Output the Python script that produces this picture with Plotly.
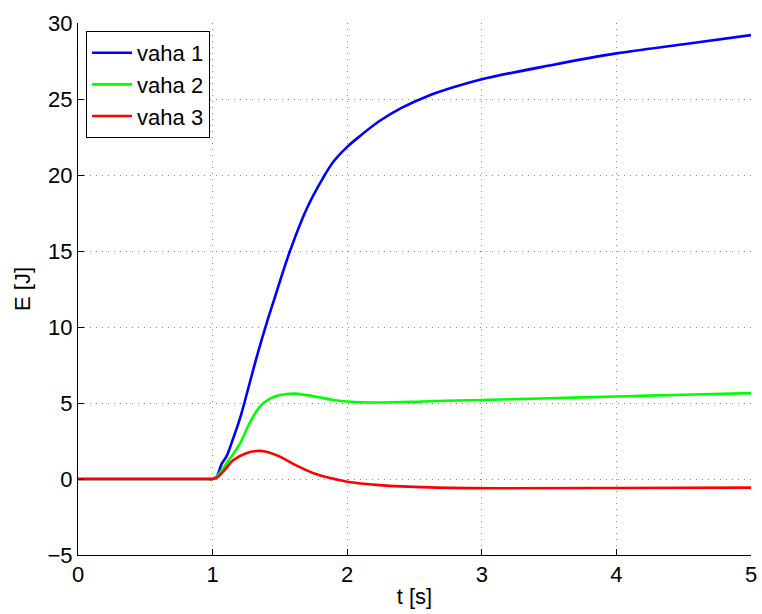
import plotly.graph_objects as go

t1 = [0, 0.5, 0.9, 0.97, 1.0, 1.03, 1.067, 1.104, 1.154, 1.204, 1.278, 1.33, 1.41, 1.45, 1.575, 1.70, 1.82, 1.90, 2.0, 2.1, 2.24, 2.4, 2.6, 2.8, 3.0, 3.5, 4.0, 4.5, 5.0]
vaha1 = [0, 0, 0, 0, 0, 0.15, 1.0, 1.5, 2.7, 4.0, 6.4, 8.1, 10.5, 11.6, 15.0, 17.8, 19.8, 20.9, 21.85, 22.6, 23.55, 24.4, 25.2, 25.8, 26.3, 27.2, 28.0, 28.6, 29.2]

t2 = [0, 0.5, 0.9, 0.97, 1.0, 1.03, 1.104, 1.204, 1.27, 1.35, 1.42, 1.5, 1.6, 1.7, 1.8, 1.9, 2.0, 2.24, 2.615, 3.0, 3.5, 4.0, 4.5, 5.0]
vaha2 = [0, 0, 0, 0, 0, 0.15, 1.03, 2.35, 3.6, 4.75, 5.25, 5.52, 5.62, 5.52, 5.36, 5.2, 5.1, 5.03, 5.12, 5.2, 5.31, 5.43, 5.54, 5.65]

t3 = [0, 0.5, 0.9, 0.97, 1.0, 1.03, 1.08, 1.155, 1.25, 1.35, 1.42, 1.5, 1.62, 1.75, 1.88, 2.0, 2.24, 2.615, 3.135, 4.0, 5.0]
vaha3 = [0, 0, 0, 0, 0, 0.08, 0.5, 1.25, 1.7, 1.85, 1.75, 1.47, 0.9, 0.38, 0.05, -0.18, -0.4, -0.55, -0.61, -0.59, -0.57]

x_ticks = [0, 1, 2, 3, 4, 5]
y_ticks = [-5, 0, 5, 10, 15, 20, 25, 30]

FONT = "Liberation Sans, Arial, sans-serif"

fig = go.Figure()
for t, v, name, col in [(t1, vaha1, "vaha 1", "#0000ff"),
                        (t2, vaha2, "vaha 2", "#00ff00"),
                        (t3, vaha3, "vaha 3", "#ff0000")]:
    fig.add_trace(go.Scatter(x=t, y=v, mode="lines", name=name,
                             line=dict(color=col, width=2.6, shape="spline", smoothing=1.0)))

axis_common = dict(showgrid=True, gridcolor="#8c8c8c", griddash="1px,5px", gridwidth=1,
                   showline=True, linecolor="black", linewidth=1,
                   ticks="inside", ticklen=6, tickcolor="black",
                   tickfont=dict(family=FONT, size=22, color="black"),
                   zeroline=False, automargin=False)

fig.update_layout(
    width=762, height=614,
    margin=dict(l=78, r=11, t=23, b=59),
    plot_bgcolor="white", paper_bgcolor="white",
    font=dict(family=FONT, color="black"),
    xaxis=dict(range=[0, 5], tickvals=x_ticks, **axis_common,
               title=dict(text="t [s]", font=dict(size=22), standoff=2)),
    yaxis=dict(range=[-5, 30], tickvals=y_ticks, **axis_common,
               title=dict(text="E [J]", font=dict(size=22), standoff=10)),
    legend=dict(x=0.012, y=0.985, xanchor="left", yanchor="top",
                bgcolor="white", bordercolor="black", borderwidth=1,
                font=dict(size=22, family=FONT),
                itemwidth=40, tracegroupgap=0),
    showlegend=True,
)

fig.write_html("out.html")
